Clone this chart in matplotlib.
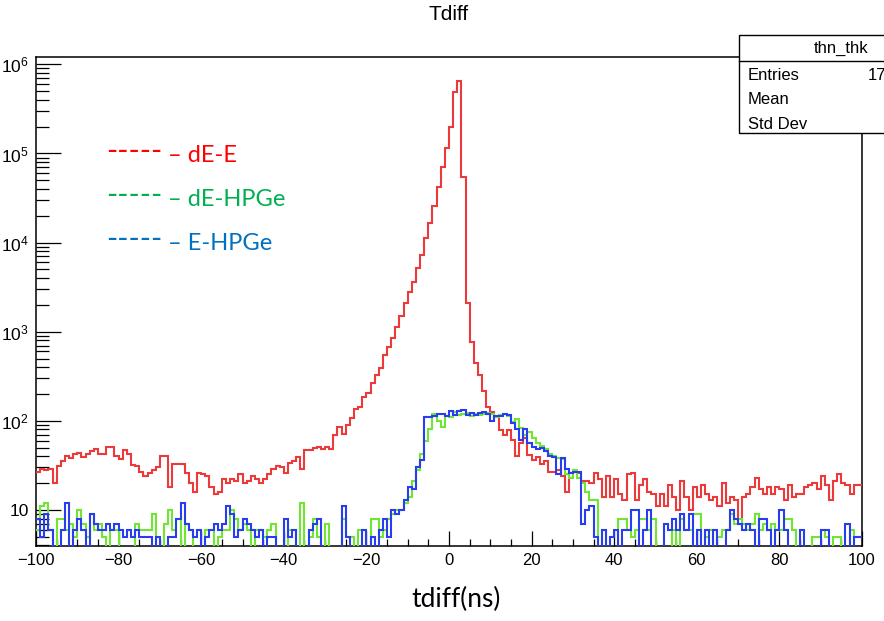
import numpy as np
import matplotlib
matplotlib.use("Agg")
import matplotlib.pyplot as plt
from matplotlib.ticker import LogLocator, MultipleLocator, FuncFormatter, NullFormatter
from matplotlib.patches import Rectangle
from matplotlib.lines import Line2D

plt.rcParams['font.family'] = ['Liberation Sans', 'DejaVu Sans']
plt.rcParams['mathtext.fontset'] = 'custom'
plt.rcParams['mathtext.rm'] = 'Liberation Sans'
plt.rcParams['mathtext.it'] = 'Liberation Sans:italic'
plt.rcParams['mathtext.bf'] = 'Liberation Sans:bold'

# ---- histogram definition: 200 bins of 1 ns from -100 to 100 ns ----
tdiff_min, tdiff_max, n_bins = -100, 100, 200

# counts per bin, dE-E coincidences
dE_E = [
    27, 29, 28, 29, 20, 31, 35, 40, 38, 42, 44, 39, 43, 46, 48, 43, 43, 51, 51, 40,
    37, 47, 42, 32, 31, 27, 24, 26, 28, 30, 40, 40, 18, 33, 33, 33, 26, 20, 16, 26,
    25, 24, 18, 15, 16, 22, 20, 22, 21, 25, 20, 21, 24, 22, 20, 22, 25, 29, 31, 30,
    26, 34, 35, 39, 29, 47, 47, 49, 51, 48, 51, 48, 70, 85, 72, 90, 109, 136, 144, 187,
    204, 264, 327, 389, 549, 680, 845, 1140, 1504, 2089,
    2818, 3648, 5160, 7280, 11200, 16500, 26000, 42500, 70000, 116000,
    200000, 490000, 650000, 54700, 2089, 770, 443, 324, 215, 144,
    127, 111, 79, 70, 79, 61, 40, 56, 64, 41, 36, 39, 33, 35, 27, 27, 28, 24, 16, 26,
    27, 26, 21, 21, 20, 26, 22, 14, 24, 14, 22, 15, 13, 25, 26, 13, 19, 22, 16, 15,
    11, 15, 11, 19, 14, 10, 21, 14, 10, 18, 14, 19, 15, 13, 14, 11, 20, 12, 14, 13,
    8, 14, 15, 18, 23, 17, 15, 18, 15, 18, 17, 13, 19, 14, 15, 15, 18, 19, 20, 17,
    24, 19, 13, 21, 25, 20, 19, 15, 19, 19,
]

# counts per bin, dE-HPGe coincidences
dE_HPGe = [
    6, 11, 12, 6, 0, 8, 8, 6, 7, 5, 10, 7, 5, 9, 6, 7, 5, 0, 6, 6,
    0, 0, 0, 0, 7, 6, 6, 6, 9, 0, 0, 7, 10, 6, 8, 0, 7, 6, 0, 0,
    0, 6, 6, 0, 5, 6, 6, 10, 8, 6, 7, 6, 0, 6, 6, 5, 6, 7, 0, 0,
    0, 6, 6, 0, 12, 0, 5, 8, 5, 0, 7, 0, 0, 0, 8, 5, 5, 0, 6, 6,
    0, 8, 8, 5, 6, 8, 9, 10, 10, 12, 14, 21, 28, 43, 59, 82, 120, 100, 86, 112,
    110, 125, 115, 118, 122, 112, 120, 115, 118, 122, 118, 110, 115, 118, 112, 98, 104, 83, 69, 75,
    64, 56, 52, 48, 42, 40, 38, 37, 25, 23, 28, 23, 20, 16, 13, 13, 0, 6, 0, 0,
    0, 8, 8, 6, 5, 6, 8, 8, 6, 8, 0, 0, 0, 0, 6, 0, 8, 6, 6, 9,
    9, 0, 5, 6, 0, 5, 6, 6, 9, 7, 8, 7, 6, 7, 9, 6, 7, 6, 7, 6,
    6, 8, 8, 6, 0, 0, 0, 0, 5, 5, 6, 5, 0, 5, 5, 0, 0, 6, 5, 5,
]

# counts per bin, E-HPGe coincidences
E_HPGe = [
    8, 5, 9, 6, 0, 0, 6, 12, 0, 6, 8, 6, 0, 9, 7, 6, 6, 7, 6, 7,
    6, 5, 6, 5, 6, 5, 5, 5, 0, 5, 0, 0, 5, 5, 8, 12, 7, 6, 5, 6,
    0, 5, 6, 7, 6, 7, 11, 9, 5, 6, 8, 7, 6, 5, 6, 0, 5, 5, 0, 0,
    8, 5, 6, 0, 0, 0, 6, 7, 8, 0, 0, 0, 0, 0, 11, 5, 0, 0, 0, 6,
    0, 5, 0, 6, 8, 5, 10, 9, 10, 13, 18, 17, 30, 36, 111, 111, 113, 118, 118, 113,
    130, 116, 130, 134, 116, 122, 116, 122, 125, 119, 100, 113, 113, 118, 116, 95, 82, 61, 80, 56,
    51, 48, 49, 46, 40, 39, 25, 38, 29, 26, 27, 27, 7, 10, 11, 5, 0, 6, 0, 5,
    6, 0, 6, 6, 10, 10, 0, 6, 10, 0, 0, 0, 7, 6, 8, 6, 9, 6, 9, 0,
    6, 0, 6, 0, 6, 0, 0, 6, 10, 8, 7, 6, 7, 6, 0, 8, 8, 6, 0, 6,
    10, 6, 0, 0, 0, 6, 0, 0, 0, 0, 6, 6, 0, 0, 0, 0, 7, 0, 5, 5,
]

series_names = ['dE-E', 'dE-HPGe', 'E-HPGe']
hist_colors = ['#ec3a3a', '#6ee632', '#283cf0']
label_colors = ['#ff0000', '#00b050', '#0070c0']
hist_name = 'thn_thk'
stat_rows = ['Entries', 'Mean', 'Std Dev']

edges = np.linspace(tdiff_min, tdiff_max, n_bins + 1)

W, H = 884, 621
fig = plt.figure(figsize=(W / 100, H / 100), dpi=100)


def fx(px):
    return px / W


def fy(py):
    return 1 - py / H


ax = fig.add_axes([fx(36), fy(546), fx(862) - fx(36), fy(57) - fy(546)])
ax.set_yscale('log', nonpositive='clip')

for counts, color in zip([dE_E, dE_HPGe, E_HPGe], hist_colors):
    ax.stairs(np.asarray(counts, dtype=float), edges, baseline=None,
              color=color, lw=1.5, zorder=3)

ax.set_xlim(tdiff_min, tdiff_max)
ax.set_ylim(3.94, 1.21e6)

ax.xaxis.set_major_locator(MultipleLocator(20))
ax.xaxis.set_minor_locator(MultipleLocator(5))
ax.yaxis.set_major_locator(LogLocator(base=10, numticks=12))
ax.yaxis.set_minor_locator(LogLocator(base=10, subs=np.arange(2, 10), numticks=40))
ax.yaxis.set_minor_formatter(NullFormatter())


def log_label(v, pos):
    n = int(round(np.log10(v)))
    if n == 1:
        return '10'
    return r'$\mathregular{10^{%d}}$' % n


ax.yaxis.set_major_formatter(FuncFormatter(log_label))

ax.tick_params(which='both', direction='in', top=False, right=False, color='black')
ax.tick_params(axis='x', which='major', length=10.6, width=0.9, pad=5, labelsize=12)
ax.tick_params(axis='x', which='minor', length=5.3, width=0.9)
ax.tick_params(axis='y', which='major', length=18, width=0.9, pad=5, labelsize=12.5)
ax.tick_params(axis='y', which='minor', length=9, width=0.9)
for s in ax.spines.values():
    s.set_linewidth(1.1)

# title and axis title
fig.text(fx(449), fy(15), 'Tdiff', ha='center', va='center', fontsize=15)
fig.text(fx(456), fy(599), 'tdiff(ns)', ha='center', va='center', fontsize=19,
         family=['Lato', 'DejaVu Sans'])

# statistics box in the top-right corner
fig.add_artist(Rectangle((fx(739), fy(133)), 1.0, fy(35) - fy(133),
                         transform=fig.transFigure, facecolor='white',
                         edgecolor='black', lw=1.0, zorder=10))
fig.add_artist(Line2D([fx(739), 1.2], [fy(61), fy(61)], transform=fig.transFigure,
                      color='black', lw=1.0, zorder=11))
fig.text(fx(841), fy(53), hist_name, ha='center', va='baseline', fontsize=12, zorder=12)
for i, row in enumerate(stat_rows):
    fig.text(fx(748), fy(80 + 24.5 * i), row, ha='left', va='baseline',
             fontsize=12, zorder=12)
fig.text(fx(868), fy(80), f'{int(np.sum(dE_E))}', ha='left', va='baseline',
         fontsize=12, zorder=12)

# series labels
for i, (name, c) in enumerate(zip(series_names, label_colors)):
    base = 161.5 + 44.5 * i
    fig.text(fx(106), fy(base - 2), '-----', ha='left', va='baseline', color=c,
             fontsize=22, family=['Lato', 'DejaVu Sans'])
    fig.text(fx(168), fy(base), '\u2013 ' + name, ha='left', va='baseline', color=c,
             fontsize=17, family=['Lato', 'DejaVu Sans'])

fig.savefig('out.png', dpi=100)
